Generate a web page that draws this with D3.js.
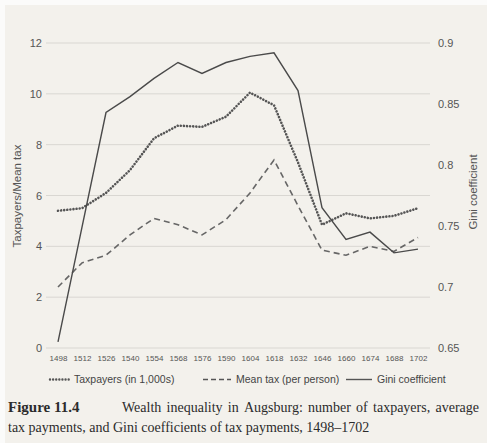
<!DOCTYPE html>
<html><head><meta charset="utf-8">
<script src="https://cdn.jsdelivr.net/npm/d3@7"></script>
<style>body{margin:0;background:#f7f6f3}svg{display:block}</style>
</head><body><svg id="c" width="487" height="443"></svg>
<script>
const years = ["1498","1512","1526","1540","1554","1568","1576","1590","1604","1618","1632","1646","1660","1674","1688","1702"];
const taxpayers = [5.4, 5.5, 6.1, 7.0, 8.25, 8.75, 8.7, 9.1, 10.05, 9.55, 7.3, 4.85, 5.3, 5.1, 5.2, 5.5];
const meanTax = [2.4, 3.35, 3.65, 4.45, 5.1, 4.85, 4.45, 5.05, 6.1, 7.4, 5.6, 3.85, 3.65, 4.0, 3.8, 4.35];
const gini = [0.655, 0.749, 0.843, 0.856, 0.871, 0.884, 0.875, 0.884, 0.889, 0.892, 0.861, 0.765, 0.739, 0.745, 0.728, 0.731];
const leftTicks = [0, 2, 4, 6, 8, 10, 12];
const rightTicks = [0.65, 0.7, 0.75, 0.8, 0.85, 0.9];
const legendLabels = ["Taxpayers (in 1,000s)", "Mean tax (per person)", "Gini coefficient"];
const captionBold = "Figure 11.4";
const captionLine1 = "Wealth inequality in Augsburg: number of taxpayers, average";
const captionLine2 = "tax payments, and Gini coefficients of tax payments, 1498–1702";

const svg = d3.select("#c");
const sans = "'Liberation Sans', Arial, sans-serif";
const serif = "'Liberation Serif', 'Times New Roman', serif";

// paper
svg.append("rect").attr("x", 0).attr("y", 0).attr("width", 487).attr("height", 443).attr("fill", "#fbfbfa");
svg.append("rect").attr("x", 5).attr("y", 5).attr("width", 482).attr("height", 438).attr("fill", "#f3f1ec");

const x = d3.scalePoint().domain(years).range([58, 418]);
const yL = d3.scaleLinear().domain([0, 12]).range([348, 43]);
const yR = d3.scaleLinear().domain([0.65, 0.9]).range([348, 43]);

// gridlines
svg.append("g").selectAll("line").data(leftTicks).join("line")
  .attr("x1", 46).attr("x2", 430)
  .attr("y1", d => yL(d)).attr("y2", d => yL(d))
  .attr("stroke", "#d9d7d2").attr("stroke-width", 1);

// left axis
const axL = svg.append("g").attr("transform", "translate(42,0)")
  .call(d3.axisLeft(yL).tickValues(leftTicks).tickSize(0).tickPadding(0));
axL.select(".domain").remove();
axL.selectAll("text").attr("font-family", sans).attr("font-size", 11).attr("fill", "#555");

// right axis
const axR = svg.append("g").attr("transform", "translate(438,0)")
  .call(d3.axisRight(yR).tickValues(rightTicks).tickFormat(d3.format("~g")).tickSize(0).tickPadding(0));
axR.select(".domain").remove();
axR.selectAll("text").attr("font-family", sans).attr("font-size", 11).attr("fill", "#555");

// bottom axis
const axB = svg.append("g").attr("transform", "translate(0,355)")
  .call(d3.axisBottom(x).tickSize(0).tickPadding(0));
axB.select(".domain").remove();
axB.selectAll("text").attr("font-family", sans).attr("font-size", 8).attr("fill", "#555");

// axis titles
svg.append("text").attr("transform", "translate(21,196) rotate(-90)")
  .attr("text-anchor", "middle").attr("font-family", sans).attr("font-size", 11.5).attr("fill", "#555")
  .text("Taxpayers/Mean tax");
svg.append("text").attr("transform", "translate(477,192) rotate(-90)")
  .attr("text-anchor", "middle").attr("font-family", sans).attr("font-size", 11.5).attr("fill", "#555")
  .text("Gini coefficient");

// lines
const lineL = d3.line().x((d, i) => x(years[i])).y(d => yL(d));
const lineR = d3.line().x((d, i) => x(years[i])).y(d => yR(d));

svg.append("path").datum(meanTax).attr("d", lineL)
  .attr("fill", "none").attr("stroke", "#666").attr("stroke-width", 1.6).attr("stroke-dasharray", "6 4");
svg.append("path").datum(taxpayers).attr("d", lineL)
  .attr("fill", "none").attr("stroke", "#555").attr("stroke-width", 2.6)
  .attr("stroke-linecap", "round").attr("stroke-dasharray", "0.01 3.1");
svg.append("path").datum(gini).attr("d", lineR)
  .attr("fill", "none").attr("stroke", "#4a4a4a").attr("stroke-width", 1.4);

// legend
const leg = svg.append("g").attr("font-family", sans).attr("font-size", 10.5).attr("fill", "#444");
const ly = 383;
const items = [
  {x1: 50, x2: 71, tx: 74, dash: "0.01 3.1", w: 2.4, cap: "round"},
  {x1: 203, x2: 231, tx: 236, dash: "5 3", w: 1.5, cap: "butt"},
  {x1: 346, x2: 372, tx: 377, dash: null, w: 1.4, cap: "butt"}
];
items.forEach((it, i) => {
  leg.append("line").attr("x1", it.x1).attr("x2", it.x2).attr("y1", ly - 3.5).attr("y2", ly - 3.5)
    .attr("stroke", "#555").attr("stroke-width", it.w).attr("stroke-linecap", it.cap)
    .attr("stroke-dasharray", it.dash);
  leg.append("text").attr("x", it.tx).attr("y", ly).text(legendLabels[i]);
});

// caption
const cap = svg.append("g").attr("font-family", serif).attr("font-size", 14).attr("fill", "#2b2b2b");
cap.append("text").attr("x", 8).attr("y", 412).attr("font-weight", "bold").attr("font-size", 15).text(captionBold);
// justified first line
const words = captionLine1.split(" ");
const startX = 122, endX = 479;
const wnodes = words.map(w => cap.append("text").attr("y", 412).text(w));
const widths = wnodes.map(n => n.node().getComputedTextLength());
const gap = (endX - startX - d3.sum(widths)) / (words.length - 1);
let cx = startX;
wnodes.forEach((n, i) => { n.attr("x", cx); cx += widths[i] + gap; });
cap.append("text").attr("x", 8).attr("y", 432).text(captionLine2);
</script>
</body></html>
